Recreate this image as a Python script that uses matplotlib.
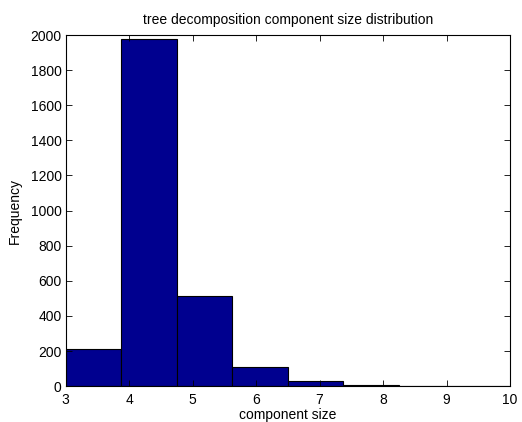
import numpy as np
import matplotlib
matplotlib.use("Agg")
import matplotlib.pyplot as plt

plt.rcParams["font.family"] = ["Liberation Sans", "DejaVu Sans"]

# bin edges (8 bins from 3 to 10) and counts
bin_edges = np.linspace(3, 10, 9)
counts = [212, 1977, 514, 107, 31, 8, 3, 1]

fig = plt.figure(figsize=(5.22, 4.22), dpi=100)
ax = fig.add_axes([0.126, 0.085, 0.851, 0.832])

ax.bar(bin_edges[:-1], counts, width=np.diff(bin_edges), align="edge",
       color="#00008f", edgecolor="black", linewidth=0.8)

ax.set_xlim(3, 10)
ax.set_ylim(0, 2000)
ax.set_xticks(range(3, 11))
ax.set_yticks(range(0, 2001, 200))
ax.tick_params(direction="in", top=True, right=True, labelsize=10, length=4,
               width=0.6, pad=3)
ax.tick_params(axis="x", pad=5)
for s in ax.spines.values():
    s.set_linewidth(0.8)

ax.set_xlabel("component size", fontsize=10, labelpad=1)
ax.set_ylabel("Frequency", fontsize=10, labelpad=6)
ax.set_title("tree decomposition component size distribution", fontsize=10, pad=8)

fig.savefig("out.png", dpi=100)
